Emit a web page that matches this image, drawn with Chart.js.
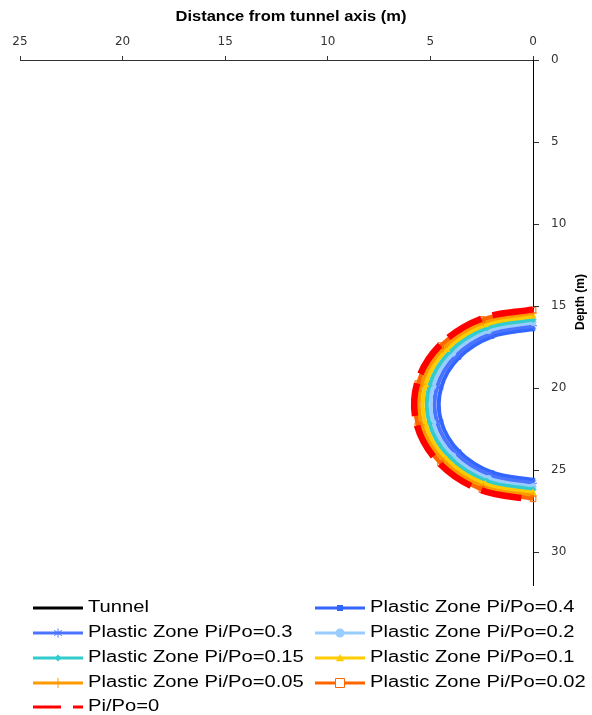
<!DOCTYPE html>
<html>
<head>
<meta charset="utf-8">
<script src="https://cdn.jsdelivr.net/npm/chart.js@4/dist/chart.umd.min.js"></script>
<style>
  html, body { margin: 0; padding: 0; background: #fff; }
  #wrap { width: 592px; height: 715px; position: relative; }
</style>
</head>
<body>
<div id="wrap"><canvas id="c"></canvas></div>
<script>
// Axis titles and ticks
const xTitle = 'Distance from tunnel axis (m)';
const yTitle = 'Depth (m)';
const xTickValues = [0, 5, 10, 15, 20, 25];
const yTickValues = [0, 5, 10, 15, 20, 25, 30];

// Series names (legend order)
const seriesNames = [
  'Tunnel',
  'Plastic Zone Pi/Po=0.4',
  'Plastic Zone Pi/Po=0.3',
  'Plastic Zone Pi/Po=0.2',
  'Plastic Zone Pi/Po=0.15',
  'Plastic Zone Pi/Po=0.1',
  'Plastic Zone Pi/Po=0.05',
  'Plastic Zone Pi/Po=0.02',
  'Pi/Po=0'
];

// Distance from axis (m) and depth (m) of each boundary, top to bottom
const tunnelX = [0, 1.99, 3.58, 4.47, 4.47, 3.58, 1.99, 0];
const tunnelY = [16.42, 16.87, 18.14, 19.98, 22.02, 23.86, 25.13, 25.58];
const pz04X  = [0, 2.0, 3.6, 4.48, 4.48, 3.6, 2.0, 0];
const pz04Y  = [16.4, 16.86, 18.13, 19.98, 22.02, 23.87, 25.14, 25.6];
const pz03X  = [0, 2.08, 3.75, 4.68, 4.68, 3.75, 2.08, 0];
const pz03Y  = [16.2, 16.68, 18.01, 19.93, 22.07, 23.99, 25.32, 25.8];
const pz02X  = [0, 2.17, 3.91, 4.87, 4.87, 3.91, 2.17, 0];
const pz02Y  = [16.0, 16.5, 17.88, 19.89, 22.11, 24.12, 25.5, 26.0];
const pz015X = [0, 2.25, 4.05, 5.05, 5.05, 4.05, 2.25, 0];
const pz015Y = [15.82, 16.33, 17.77, 19.85, 22.15, 24.23, 25.67, 26.18];
const pz01X  = [0, 2.33, 4.21, 5.24, 5.24, 4.21, 2.33, 0];
const pz01Y  = [15.62, 16.15, 17.65, 19.8, 22.2, 24.35, 25.85, 26.38];
const pz005X = [0, 2.42, 4.35, 5.43, 5.43, 4.35, 2.42, 0];
const pz005Y = [15.43, 15.98, 17.53, 19.76, 22.24, 24.47, 26.02, 26.57];
const pz002X = [0, 2.49, 4.5, 5.61, 5.61, 4.5, 2.49, 0];
const pz002Y = [15.25, 15.82, 17.41, 19.72, 22.28, 24.59, 26.18, 26.75];
const pz0X   = [0, 2.52, 4.53, 5.65, 5.65, 4.53, 2.52, 0];
const pz0Y   = [15.2, 15.77, 17.38, 19.71, 22.29, 24.62, 26.23, 26.8];

const seriesX = [tunnelX, pz04X, pz03X, pz02X, pz015X, pz01X, pz005X, pz002X, pz0X];
const seriesY = [tunnelY, pz04Y, pz03Y, pz02Y, pz015Y, pz01Y, pz005Y, pz002Y, pz0Y];

// Styles per series
const colors  = ['#000000', '#3366ff', '#4a74ff', '#99ccff', '#33cccc', '#ffcc00', '#ff9900', '#ff6600', '#ff0000'];
const markers = [false, 'rect', 'star', 'circle', 'rectRot', 'triangle', 'cross', 'rect', false];
const markerSizes = [0, 2.5, 4, 3, 3, 3.5, 4, 4, 0];
const hollow  = [false, false, false, false, false, false, false, true, false];
const widths  = [2, 4, 4, 4, 4, 4, 4, 4, 6.5];
const dashed  = [false, false, false, false, false, false, false, false, true];

// Long dash restarted on every segment: one dash, then a gap before the next point
function segmentDash(ctx) {
  const d = Math.hypot(ctx.p1.x - ctx.p0.x, ctx.p1.y - ctx.p0.y);
  return [Math.round(d * 0.78), Math.round(d)];
}

const datasets = seriesNames.map((name, i) => ({
  label: name,
  data: seriesX[i].map((x, k) => ({ x: x, y: seriesY[i][k] })),
  showLine: true,
  borderColor: colors[i],
  borderWidth: widths[i],
  borderCapStyle: 'butt',
  segment: dashed[i] ? { borderDash: segmentDash } : undefined,
  tension: 0.35,
  pointStyle: markers[i] || 'circle',
  pointRadius: markers[i] ? markerSizes[i] : 0,
  pointBackgroundColor: hollow[i] ? 'rgba(255,255,255,0)' : colors[i],
  pointBorderColor: colors[i],
  pointBorderWidth: 1,
  order: seriesNames.length - 1 - i,
  clip: false
}));

function drawMarker(ctx, style, x, y, r, color, isHollow) {
  ctx.save();
  ctx.fillStyle = color;
  ctx.strokeStyle = color;
  ctx.lineWidth = 1;
  ctx.setLineDash([]);
  ctx.beginPath();
  if (style === 'rect') {
    ctx.rect(x - r, y - r, 2 * r, 2 * r);
    if (isHollow) { ctx.fillStyle = '#fff'; ctx.fill(); ctx.stroke(); } else { ctx.fill(); }
  } else if (style === 'circle') {
    ctx.arc(x, y, r, 0, Math.PI * 2); ctx.fill();
  } else if (style === 'rectRot') {
    ctx.moveTo(x, y - r); ctx.lineTo(x + r, y); ctx.lineTo(x, y + r); ctx.lineTo(x - r, y); ctx.closePath(); ctx.fill();
  } else if (style === 'triangle') {
    ctx.moveTo(x, y - r); ctx.lineTo(x + r, y + r * 0.8); ctx.lineTo(x - r, y + r * 0.8); ctx.closePath(); ctx.fill();
  } else if (style === 'cross') {
    ctx.moveTo(x, y - r); ctx.lineTo(x, y + r); ctx.stroke();
  } else if (style === 'star') {
    ctx.moveTo(x, y - r); ctx.lineTo(x, y + r);
    ctx.moveTo(x - r * 0.85, y - r * 0.6); ctx.lineTo(x + r * 0.85, y + r * 0.6);
    ctx.moveTo(x - r * 0.85, y + r * 0.6); ctx.lineTo(x + r * 0.85, y - r * 0.6);
    ctx.stroke();
  }
  ctx.restore();
}

// Axis titles and a two-column legend under the plot
const annotations = {
  id: 'annotations',
  afterDraw(chart) {
    const ctx = chart.ctx;
    ctx.save();
    ctx.fillStyle = '#000';
    ctx.textBaseline = 'middle';

    ctx.save();
    ctx.font = 'bold 15px "Liberation Sans", Arial, sans-serif';
    ctx.textAlign = 'center';
    ctx.translate(291, 17);
    ctx.scale(1.1, 1);
    ctx.fillText(xTitle, 0, 0);
    ctx.restore();

    ctx.save();
    ctx.font = 'bold 12px "Liberation Sans", Arial, sans-serif';
    ctx.textAlign = 'center';
    ctx.translate(581, 302);
    ctx.rotate(-Math.PI / 2);
    ctx.fillText(yTitle, 0, 0);
    ctx.restore();

    const colX = [33, 315];
    const rowY = [608, 633, 658, 683, 707];
    const lineLen = 50;
    seriesNames.forEach((name, i) => {
      const x0 = colX[i % 2];
      const y0 = rowY[Math.floor(i / 2)];
      ctx.save();
      ctx.strokeStyle = colors[i];
      ctx.lineWidth = 3;
      ctx.setLineDash(dashed[i] ? [28, 12] : []);
      ctx.beginPath();
      ctx.moveTo(x0, y0);
      ctx.lineTo(x0 + lineLen, y0);
      ctx.stroke();
      ctx.restore();
      if (markers[i]) {
        const lr = { rect: 3, star: 4.5, circle: 4.5, rectRot: 3.5, triangle: 4, cross: 5 }[markers[i]];
        drawMarker(ctx, markers[i], x0 + lineLen / 2, y0, hollow[i] ? 4.5 : lr, colors[i], hollow[i]);
      }
      ctx.save();
      ctx.font = '16px "Liberation Sans", Arial, sans-serif';
      ctx.textAlign = 'left';
      ctx.fillStyle = '#000';
      ctx.translate(x0 + lineLen + 5, y0);
      ctx.scale(1.26, 1);
      ctx.fillText(name, 0, 0);
      ctx.restore();
    });
    ctx.restore();
  }
};

new Chart(document.getElementById('c'), {
  type: 'scatter',
  data: { datasets: datasets },
  plugins: [annotations],
  options: {
    responsive: true,
    maintainAspectRatio: false,
    animation: false,
    events: [],
    layout: { padding: { left: 20, right: 0, top: 0, bottom: 130 } },
    plugins: { legend: { display: false }, tooltip: { enabled: false } },
    scales: {
      x: {
        type: 'linear',
        position: 'top',
        reverse: true,
        min: 0,
        max: 25,
        afterBuildTicks(scale) { scale.ticks = xTickValues.map(v => ({ value: v })); },
        ticks: { color: '#333', font: { family: 'DejaVu Sans', size: 12 }, padding: 7, maxRotation: 0 },
        grid: { drawOnChartArea: false, drawTicks: true, tickLength: 4, tickColor: '#333' },
        border: { display: true, color: '#333', width: 1 },
        afterFit(scale) { scale.height = 60; }
      },
      y: {
        type: 'linear',
        position: 'right',
        reverse: true,
        min: 0,
        max: 32,
        afterBuildTicks(scale) { scale.ticks = yTickValues.map(v => ({ value: v })); },
        ticks: { color: '#333', font: { family: 'DejaVu Sans', size: 12 }, padding: 12 },
        grid: { drawOnChartArea: false, drawTicks: true, tickLength: 6, tickColor: '#333' },
        border: { display: true, color: '#000', width: 1 },
        afterFit(scale) { scale.width = 59; }
      }
    }
  }
});
</script>
</body>
</html>
